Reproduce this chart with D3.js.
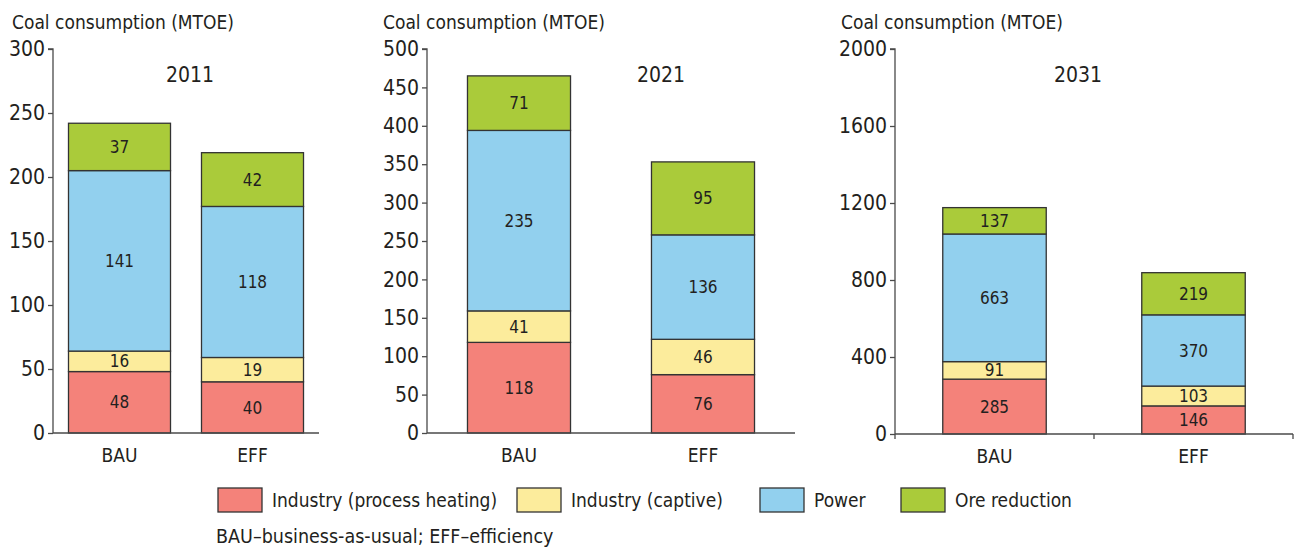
<!DOCTYPE html>
<html><head><meta charset="utf-8">
<script src="https://cdn.jsdelivr.net/npm/d3@7"></script>
<style>
body{margin:0;background:#fff;}
text{font-family:"Liberation Sans Narrow","DejaVu Sans Condensed","Arial Narrow",sans-serif;fill:#231f20;}
</style></head><body>
<svg id="c" width="1294" height="548"></svg>
<script>
const categories = ["BAU","EFF"];
const seriesNames = ["Industry (process heating)","Industry (captive)","Power","Ore reduction"];
const colors = ["#f4827a","#fcec9c","#92d0ee","#aacb3a"];
const years = ["2011","2021","2031"];
// values per year: [BAU, EFF], each [process heating, captive, power, ore reduction]
const values2011 = [[48,16,141,37],[40,19,118,42]];
const values2021 = [[118,41,235,71],[76,46,136,95]];
const values2031 = [[285,91,663,137],[146,103,370,219]];
const ticks2011 = [0,50,100,150,200,250,300];
const ticks2021 = [0,50,100,150,200,250,300,350,400,450,500];
const ticks2031 = [0,400,800,1200,1600,2000];
const yLabel = "Coal consumption (MTOE)";
const footnote = "BAU\u2013business-as-usual; EFF\u2013efficiency";

const svg = d3.select("#c");
const panels = [
  {year:years[0], vals:values2011, ticks:ticks2011, max:300, x0:53, x1:319, pad:0.233, y0:433, y1:49, tx:12, yx:190, xticks:false},
  {year:years[1], vals:values2021, ticks:ticks2021, max:500, x0:427, x1:795, pad:0.44, y0:433, y1:49, tx:383, yx:661, xticks:false},
  {year:years[2], vals:values2031, ticks:ticks2031, max:2000, x0:895, x1:1293, pad:0.48, y0:434, y1:49, tx:841, yx:1078, xticks:true}
];
const axisColor = "#4a4a4a";
panels.forEach(p=>{
  const g = svg.append("g");
  const y = d3.scaleLinear().domain([0,p.max]).range([p.y0,p.y1]);
  const x = d3.scaleBand().domain(categories).range([p.x0,p.x1]).paddingInner(p.pad).paddingOuter(p.pad/2);
  categories.forEach((c,ci)=>{
    let cum=0;
    p.vals[ci].forEach((v,si)=>{
      const yTop=y(cum+v), yBot=y(cum);
      g.append("rect").attr("x",x(c)).attr("y",yTop).attr("width",x.bandwidth()).attr("height",yBot-yTop)
        .attr("fill",colors[si]).attr("stroke","#333").attr("stroke-width",1.3);
      g.append("text").attr("x",x(c)+x.bandwidth()/2).attr("y",(yTop+yBot)/2).attr("dy","0.36em")
        .attr("text-anchor","middle").attr("font-size",17).text(v);
      cum+=v;
    });
  });
  const ya = g.append("g").attr("transform",`translate(${p.x0},0)`)
    .call(d3.axisLeft(y).tickValues(p.ticks).tickSize(5).tickPadding(3).tickFormat(d3.format("d")));
  ya.selectAll("path,line").attr("stroke",axisColor).attr("stroke-width",1.3);
  ya.select(".domain").attr("d",`M-5,${p.y1}H0V${p.y0}`);
  ya.selectAll("text").attr("font-size",21).attr("font-family",null).style("fill","#231f20");
  const xa = g.append("g").attr("transform",`translate(0,${p.y0})`)
    .call(d3.axisBottom(x).tickSize(0).tickPadding(16));
  xa.select(".domain").attr("stroke",axisColor).attr("stroke-width",1.3).attr("d",`M${p.x0},0H${p.x1}`);
  xa.selectAll("text").attr("font-size",19).attr("font-family",null).style("fill","#231f20");
  if(p.xticks){
    const step = (p.x1-p.x0)/categories.length;
    d3.range(categories.length+1).forEach(i=>{
      g.append("line").attr("x1",p.x0+i*step).attr("x2",p.x0+i*step).attr("y1",p.y0).attr("y2",p.y0+5)
        .attr("stroke",axisColor).attr("stroke-width",1.3);
    });
  }
  g.append("text").attr("x",p.tx).attr("y",29).attr("font-size",19).text(yLabel);
  g.append("text").attr("x",p.yx).attr("y",82).attr("text-anchor","middle").attr("font-size",21).text(p.year);
});
const legX = [218,517,760,901];
seriesNames.forEach((s,i)=>{
  svg.append("rect").attr("x",legX[i]).attr("y",488).attr("width",44).attr("height",24)
    .attr("fill",colors[i]).attr("stroke","#333").attr("stroke-width",1.3);
  svg.append("text").attr("x",legX[i]+54).attr("y",507).attr("font-size",19).text(s);
});
svg.append("text").attr("x",216).attr("y",543).attr("font-size",19.5).text(footnote);
</script></body></html>
